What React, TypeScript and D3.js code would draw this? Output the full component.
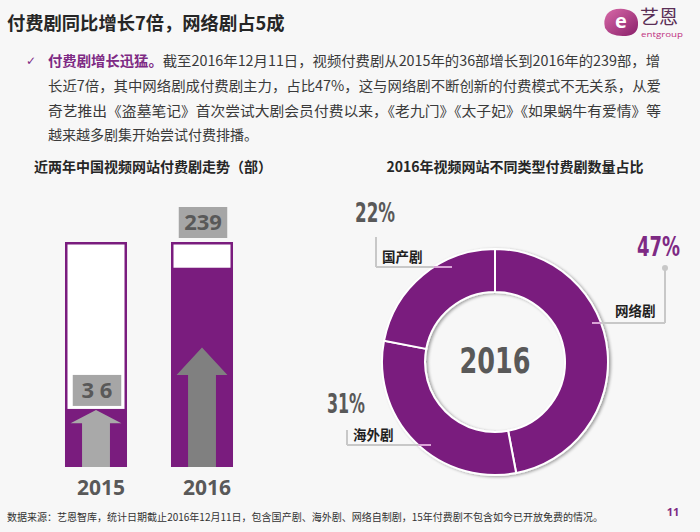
import React from 'react';
import * as d3 from 'd3';

const years = ['2015', '2016'];
const counts = [36, 239];
const countLabels = ['3 6', '239'];
const arrowShare = [0.98, 0.6];

const typeNames = ['网络剧', '海外剧', '国产剧'];
const typeShares = [47, 31, 22];
const shareLabels = ['47%', '31%', '22%'];

const bulletLines = [
  '截至2016年12月11日，视频付费剧从2015年的36部增长到2016年的239部，增',
  '长近7倍，其中网络剧成付费剧主力，占比47%，这与网络剧不断创新的付费模式不无关系，从爱',
  '奇艺推出《盗墓笔记》首次尝试大剧会员付费以来，《老九门》《太子妃》《如果蜗牛有爱情》等',
  '越来越多剧集开始尝试付费排播。',
];

const PURPLE = '#7a1c7e';
const LPURPLE = '#7e2a84';
const GRAY_TXT = '#595959';
const CJK = '"Noto Sans CJK SC", "Noto Sans", sans-serif';
const NARROW = '"Liberation Sans Narrow", "DejaVu Sans Condensed", "Liberation Sans", sans-serif';
const SANS = '"Open Sans", "Noto Sans", "DejaVu Sans", sans-serif';

export default function App() {
  const W = 700, H = 532;

  // bar chart
  const x = d3.scaleBand<string>().domain(years).range([43, 255]).paddingInner(0.415).paddingOuter(0.2075);
  const y = d3.scaleLinear().domain([-47.5, 276]).range([467, 242]);
  const bw = x.bandwidth();
  const bottom = y(-47.5);
  const frameTop = y(276);

  // donut
  const cx = 495, cy = 362;
  const pie = d3.pie<number>().sort(null).value((d) => d);
  const arcs = pie(typeShares);
  const arcGen = d3.arc<d3.PieArcDatum<number>>().innerRadius(70).outerRadius(113);

  // annotation layout per slice (网络剧, 海外剧, 国产剧)
  const ann = [
    { pct: [637, 256], pctW: 43, pctColor: LPURPLE, name: [615, 316], vx: 665, vy1: 268, hy: 323, hx2: 592, dot: true },
    { pct: [327, 413], pctW: 38, pctColor: GRAY_TXT, name: [353, 440], vx: 347, vy1: 430, hy: 445, hx2: 431, dot: false },
    { pct: [355, 222], pctW: 40, pctColor: GRAY_TXT, name: [382, 262], vx: 376, vy1: 237, hy: 267, hx2: 452, dot: false },
  ];
  const R = 113;
  const circleX = (yy: number, side: number) => cx + side * Math.sqrt(Math.max(0, R * R - (yy - cy) * (yy - cy)));

  return (
    <svg width={W} height={H} style={{ position: 'absolute', left: 0, top: 0 }}>
      <defs>
        <filter id="sh" x="-20%" y="-20%" width="140%" height="140%">
          <feDropShadow dx="2" dy="1" stdDeviation="1.5" floodColor="#000" floodOpacity="0.35" />
        </filter>
        <linearGradient id="logoG" x1="0" y1="0" x2="1" y2="1">
          <stop offset="0" stopColor="#d86aa8" />
          <stop offset="1" stopColor="#8a1f6a" />
        </linearGradient>
      </defs>
      <rect x={0} y={0} width={W} height={H} fill="#f7f7f7" />

      {/* header */}
      <text x={7} y={30} fontFamily={CJK} fontWeight={700} fontSize={18.3} fill="#262626">付费剧同比增长7倍，网络剧占5成</text>

      {/* logo */}
      <g>
        <path d="M607,14 Q612,8 624,9 Q637,11 638,22 Q639,35 626,36 Q610,37 605,28 Q603,20 607,14 Z" fill="url(#logoG)" />
        <text x={621} y={28} textAnchor="middle" fontFamily={SANS} fontWeight={700} fontSize={20} fill="#fff">e</text>
        <text x={640} y={24} fontFamily={CJK} fontSize={19} fill="#5a2f56">艺恩</text>
        <text x={641} y={37} fontFamily={SANS} fontSize={8} fill="#c0307f" textLength={42} lengthAdjust="spacingAndGlyphs">entgroup</text>
      </g>

      {/* bullet paragraph */}
      <text x={26} y={65} fontFamily={SANS} fontSize={12} fill={LPURPLE}>✓</text>
      <text x={48} y={66} fontFamily={CJK} fontSize={14} fill="#3a3a3a" textLength={612} lengthAdjust="spacingAndGlyphs">
        <tspan fill={LPURPLE} fontWeight={700}>付费剧增长迅猛。</tspan>
        {bulletLines[0]}
      </text>
      {bulletLines.slice(1).map((t, i) => (
        <text key={i} x={48} y={91 + i * 24.7} fontFamily={CJK} fontSize={14} fill="#3a3a3a"
          {...(i < 2 ? { textLength: 613, lengthAdjust: 'spacingAndGlyphs' } : {})}>{t}</text>
      ))}

      {/* left chart */}
      <text x={153} y={172} textAnchor="middle" fontFamily={CJK} fontWeight={700} fontSize={14} fill="#262626">近两年中国视频网站付费剧走势（部）</text>
      {years.map((yr, i) => {
        const x0 = x(yr)!;
        const v = counts[i];
        const top = y(v);
        const cxb = x0 + bw / 2;
        const len = (bottom - top) * arrowShare[i];
        const tip = bottom - len;
        const headB = tip + len * 0.23;
        const hw = bw * 0.41, sw = bw * 0.225;
        const arrow = `M${cxb},${tip} L${cxb + hw},${headB} L${cxb + sw},${headB} L${cxb + sw},${bottom} L${cxb - sw},${bottom} L${cxb - sw},${headB} L${cxb - hw},${headB} Z`;
        const boxW = countLabels[i].length * 15.5 + 2;
        const boxH = 31;
        const boxBottom = top - boxH - 6 < frameTop ? frameTop - 4 : top - 3;
        return (
          <g key={yr}>
            <rect x={x0 + 1.25} y={frameTop + 1.25} width={bw - 2.5} height={bottom - frameTop - 2.5} fill="#fff" stroke={PURPLE} strokeWidth={2.5} />
            <rect x={x0} y={top} width={bw} height={bottom - top} fill={PURPLE} />
            <path d={arrow} fill={i === 0 ? '#a9a9a9' : '#808080'} />
            <rect x={cxb + 1 - boxW / 2} y={boxBottom - boxH} width={boxW} height={boxH} fill="#a6a6a6" />
            <text x={cxb + 1} y={boxBottom - 8} textAnchor="middle" fontFamily={SANS} fontWeight={700} fontSize={22} fill={GRAY_TXT}>{countLabels[i]}</text>
            <text x={cxb + 5} y={495} textAnchor="middle" fontFamily={SANS} fontWeight={700} fontSize={21} fill={GRAY_TXT}>{yr}</text>
          </g>
        );
      })}

      {/* right chart */}
      <text x={515} y={172} textAnchor="middle" fontFamily={CJK} fontWeight={700} fontSize={14} fill="#262626">2016年视频网站不同类型付费剧数量占比</text>
      <g transform={`translate(${cx},${cy})`} filter="url(#sh)">
        {arcs.map((a, i) => (
          <path key={i} d={arcGen(a)!} fill={PURPLE} stroke="#fff" strokeWidth={2} />
        ))}
      </g>
      <text x={cx} y={373} textAnchor="middle" fontFamily={NARROW} fontWeight={700} fontSize={36} fill={GRAY_TXT} textLength={71} lengthAdjust="spacingAndGlyphs">2016</text>

      {arcs.map((a, i) => {
        const c = ann[i];
        const side = c.hx2 > cx ? 1 : -1;
        const ix = circleX(c.hy, side);
        return (
          <g key={'ann' + i}>
            <line x1={c.vx} y1={c.vy1} x2={c.vx} y2={c.hy} stroke="#c8c8c8" strokeWidth={2} />
            <line x1={c.vx} y1={c.hy} x2={ix} y2={c.hy} stroke="#c8c8c8" strokeWidth={2} />
            <line x1={ix} y1={c.hy} x2={c.hx2} y2={c.hy} stroke="#d9a3d6" strokeWidth={2} />
            {c.dot && <circle cx={c.vx} cy={c.vy1} r={3} fill="#c8c8c8" />}
            <text x={c.pct[0]} y={c.pct[1]} fontFamily={NARROW} fontWeight={700} fontSize={27} fill={c.pctColor} textLength={c.pctW} lengthAdjust="spacingAndGlyphs">{shareLabels[i]}</text>
            <text x={c.name[0]} y={c.name[1]} fontFamily={CJK} fontWeight={700} fontSize={13.5} fill="#1f1f1f">{typeNames[i]}</text>
          </g>
        );
      })}

      {/* footer */}
      <text x={7} y={521} fontFamily={CJK} fontSize={10.5} fill="#333" textLength={596} lengthAdjust="spacingAndGlyphs">数据来源：艺恩智库，统计日期截止2016年12月11日，包含国产剧、海外剧、网络自制剧，15年付费剧不包含如今已开放免费的情况。</text>
      <text x={673} y={516} textAnchor="middle" fontFamily={SANS} fontWeight={700} fontSize={11} fill={LPURPLE}>11</text>
    </svg>
  );
}
